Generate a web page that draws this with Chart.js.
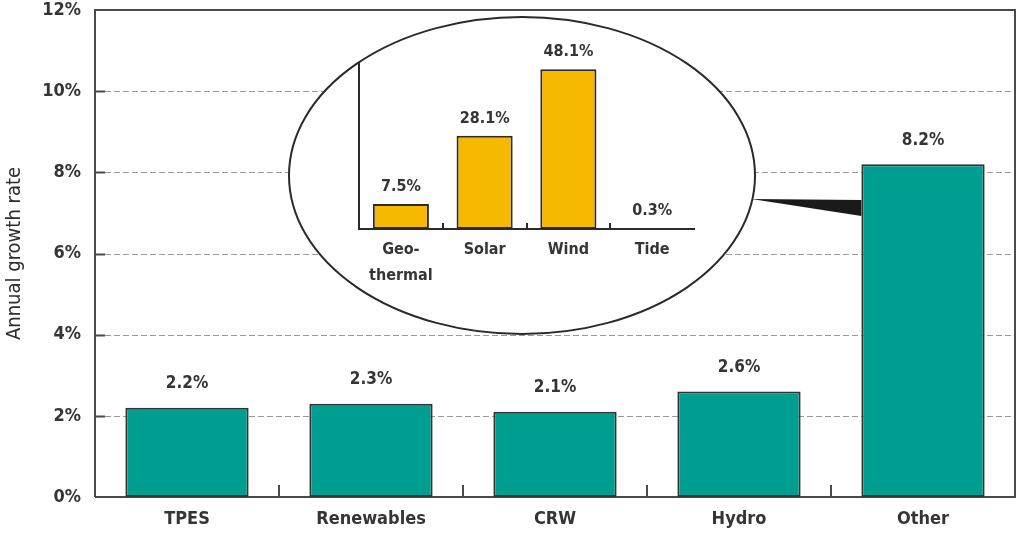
<!DOCTYPE html>
<html>
<head>
<meta charset="utf-8">
<script src="https://cdn.jsdelivr.net/npm/chart.js@4/dist/chart.umd.min.js"></script>
<style>
  html, body { margin: 0; padding: 0; background: #fff; }
  #wrap { position: relative; width: 1017px; height: 541px; }
  #main { position: absolute; left: 0; top: 0; }
  #inset { position: absolute; left: 300px; top: 40px; }
</style>
</head>
<body>
<div id="wrap">
  <canvas id="main" width="1017" height="541"></canvas>
  <canvas id="inset" width="420" height="260"></canvas>
</div>
<script>
// Annual growth rates by energy source
const categories = ['TPES', 'Renewables', 'CRW', 'Hydro', 'Other'];
const growthRates = [2.2, 2.3, 2.1, 2.6, 8.2];
const yTicks = [0, 2, 4, 6, 8, 10, 12];

// Breakdown of "Other"
const otherCategories = [['Geo-', 'thermal'], 'Solar', 'Wind', 'Tide'];
const otherRates = [7.5, 28.1, 48.1, 0.3];

const FONT = "'DejaVu Sans Condensed', 'DejaVu Sans', sans-serif";
const TEXT = '#353535';
const LINE = '#4a4a4a';
const TEAL = '#009e90';
const GOLD = '#f6b800';

const pct = v => v.toFixed(1) + '%';

// Plot frame, dashed grid and tick marks drawn from the scales
const framePlugin = {
  id: 'frame',
  beforeDatasetsDraw(chart) {
    const { ctx, chartArea: a, scales: { x, y } } = chart;
    ctx.save();
    ctx.lineWidth = 1;
    ctx.strokeStyle = '#9a9a9a';
    ctx.setLineDash([6, 3]);
    yTicks.forEach(v => {
      if (v <= y.min || v >= y.max) return;
      const py = Math.round(y.getPixelForValue(v)) + 0.5;
      ctx.beginPath();
      ctx.moveTo(a.left + 10, py);
      ctx.lineTo(a.right, py);
      ctx.stroke();
    });
    ctx.setLineDash([]);
    ctx.strokeStyle = LINE;
    ctx.lineWidth = 2;
    yTicks.forEach(v => {
      if (v <= y.min || v >= y.max) return;
      const py = Math.round(y.getPixelForValue(v)) + 0.5;
      ctx.beginPath();
      ctx.moveTo(a.left, py);
      ctx.lineTo(a.left + 10, py);
      ctx.stroke();
    });
    // frame: left, top, right, baseline
    ctx.beginPath();
    ctx.moveTo(a.left, a.bottom);
    ctx.lineTo(a.left, a.top);
    ctx.lineTo(a.right, a.top);
    ctx.lineTo(a.right, a.bottom);
    ctx.lineTo(a.left, a.bottom);
    ctx.stroke();
    // separators between categories
    const step = (a.right - a.left) / categories.length;
    for (let i = 1; i < categories.length; i++) {
      const px = Math.round(x.getPixelForValue(i) - step / 2);
      ctx.beginPath();
      ctx.moveTo(px, a.bottom);
      ctx.lineTo(px, a.bottom - 12);
      ctx.stroke();
    }
    ctx.restore();
  }
};

// Value labels above bars
function valueLabels(offset, size) {
  return {
    id: 'valueLabels',
    afterDatasetsDraw(chart) {
      const { ctx } = chart;
      const meta = chart.getDatasetMeta(0);
      const data = chart.data.datasets[0].data;
      ctx.save();
      ctx.font = 'bold ' + size + 'px ' + FONT;
      ctx.fillStyle = TEXT;
      ctx.textAlign = 'center';
      ctx.textBaseline = 'middle';
      meta.data.forEach((bar, i) => {
        ctx.fillText(pct(data[i]), bar.x, bar.y - offset);
      });
      ctx.restore();
    }
  };
}

// Callout ellipse holding the breakdown, with a pointer to the "Other" bar
const calloutPlugin = {
  id: 'callout',
  afterDatasetsDraw(chart) {
    const { ctx } = chart;
    const cx = 522, cy = 175.5, rx = 233, ry = 158.5;
    ctx.save();
    ctx.beginPath();
    ctx.ellipse(cx, cy, rx, ry, 0, 0, Math.PI * 2);
    ctx.fillStyle = '#ffffff';
    ctx.fill();
    ctx.lineWidth = 2;
    ctx.strokeStyle = '#2a2a2a';
    ctx.stroke();

    const bar = chart.getDatasetMeta(0).data[categories.length - 1];
    const barLeft = bar.x - bar.width / 2;
    const y0 = 199;
    const ex = cx + rx * Math.sqrt(1 - Math.pow((y0 - cy) / ry, 2)) - 1;
    ctx.beginPath();
    ctx.moveTo(ex, y0);
    ctx.lineTo(barLeft, y0 + 1);
    ctx.lineTo(barLeft, y0 + 17);
    ctx.closePath();
    ctx.fillStyle = '#1a1a1a';
    ctx.fill();
    ctx.restore();
  }
};

new Chart(document.getElementById('main'), {
  type: 'bar',
  data: {
    labels: categories,
    datasets: [{
      data: growthRates,
      backgroundColor: TEAL,
      borderColor: '#333333',
      borderWidth: 2,
      borderSkipped: false,
      barPercentage: 0.67,
      categoryPercentage: 1
    }]
  },
  options: {
    responsive: false,
    animation: false,
    layout: { padding: { top: 10, right: 2, left: 0, bottom: 0 } },
    plugins: { legend: { display: false }, tooltip: { enabled: false } },
    scales: {
      x: {
        grid: { display: false, drawTicks: false },
        border: { display: false },
        ticks: { color: TEXT, font: { family: FONT, size: 18, weight: 'bold' }, padding: 12 },
        afterFit(s) { s.height = 44; s.paddingLeft = 0; s.paddingRight = 0; }
      },
      y: {
        min: 0, max: 12,
        afterBuildTicks(s) { s.ticks = yTicks.map(v => ({ value: v })); },
        grid: { display: false, drawTicks: false },
        border: { display: false },
        ticks: {
          color: TEXT,
          font: { family: FONT, size: 18, weight: 'bold' },
          padding: 14,
          callback: v => v + '%'
        },
        title: {
          display: true,
          text: 'Annual growth rate',
          color: '#2e2e2e',
          font: { family: FONT, size: 20, weight: 'normal' },
          padding: { top: 3, bottom: 0 }
        },
        afterFit(s) { s.width = 95; s.paddingTop = 0; s.paddingBottom = 0; }
      }
    }
  },
  plugins: [framePlugin, valueLabels(24, 17), calloutPlugin]
});

// Inset axis: separators between categories along the baseline
const insetTicks = {
  id: 'insetTicks',
  afterDatasetsDraw(chart) {
    const { ctx, chartArea: a, scales: { x } } = chart;
    const step = (a.right - a.left) / otherRates.length;
    ctx.save();
    ctx.strokeStyle = '#2a2a2a';
    ctx.lineWidth = 2;
    for (let i = 1; i < otherRates.length; i++) {
      const px = Math.round(x.getPixelForValue(i) - step / 2);
      ctx.beginPath();
      ctx.moveTo(px, a.bottom);
      ctx.lineTo(px, a.bottom - 6);
      ctx.stroke();
    }
    ctx.restore();
  }
};

new Chart(document.getElementById('inset'), {
  type: 'bar',
  data: {
    labels: otherCategories,
    datasets: [{
      data: otherRates,
      backgroundColor: GOLD,
      borderColor: '#2a2a2a',
      borderWidth: 2,
      borderSkipped: false,
      barPercentage: 0.67,
      categoryPercentage: 1
    }]
  },
  options: {
    responsive: false,
    animation: false,
    layout: { padding: { top: 23, right: 26, left: 0, bottom: 0 } },
    plugins: { legend: { display: false }, tooltip: { enabled: false } },
    scales: {
      x: {
        grid: { display: false, drawTicks: false },
        border: { display: true, color: '#2a2a2a', width: 2 },
        ticks: { color: TEXT, font: { family: FONT, size: 16, weight: 'bold', lineHeight: 1.6 }, padding: 8 },
        afterFit(s) { s.height = 71; s.paddingLeft = 0; s.paddingRight = 0; }
      },
      y: {
        min: 0, max: 50,
        grid: { display: false, drawTicks: false },
        border: { display: true, color: '#2a2a2a', width: 2 },
        ticks: { display: false },
        afterFit(s) { s.width = 59; s.paddingTop = 0; s.paddingBottom = 0; }
      }
    }
  },
  plugins: [insetTicks, valueLabels(17, 16)]
});
</script>
</body>
</html>
